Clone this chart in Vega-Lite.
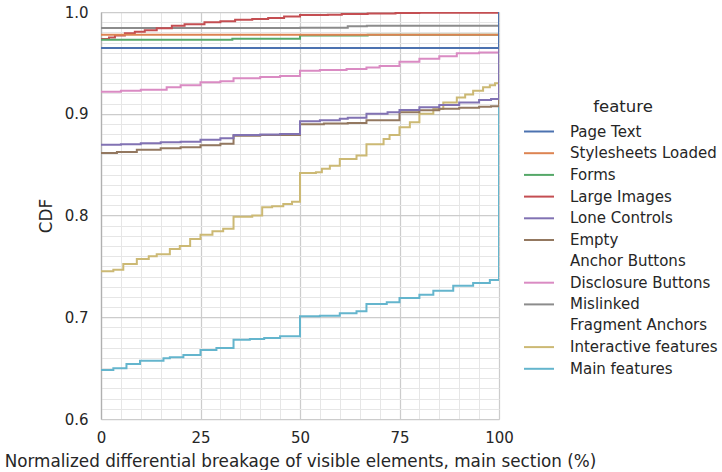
{
  "$schema": "https://vega.github.io/schema/vega-lite/v6.json",
  "width": 398,
  "height": 407,
  "padding": {"left": 4, "top": 5, "right": 0, "bottom": 0},
  "config": {
    "font": "DejaVu Sans",
    "view": {"stroke": null},
    "style": {"guide-label": {"lineHeight": 21}},
    "axis": {
      "labelColor": "#262626",
      "titleColor": "#262626",
      "labelFontSize": 15,
      "titleFontSize": 16.8,
      "titleFontWeight": "normal",
      "ticks": false,
      "labelOverlap": false,
      "labelFlush": false
    },
    "legend": {
      "labelColor": "#262626",
      "titleColor": "#262626",
      "labelFontSize": 15,
      "titleFontSize": 16.5,
      "titleFontWeight": "normal"
    }
  },
  "data": {
    "values": [
      {"feature": "Main features", "x": 0, "cdf": 0.6482},
      {"feature": "Main features", "x": 3.1, "cdf": 0.6498},
      {"feature": "Main features", "x": 6.4, "cdf": 0.654},
      {"feature": "Main features", "x": 9.8, "cdf": 0.6573},
      {"feature": "Main features", "x": 15.7, "cdf": 0.6596},
      {"feature": "Main features", "x": 17.3, "cdf": 0.6606},
      {"feature": "Main features", "x": 20.7, "cdf": 0.6629},
      {"feature": "Main features", "x": 25, "cdf": 0.6678},
      {"feature": "Main features", "x": 29, "cdf": 0.6698},
      {"feature": "Main features", "x": 33.3, "cdf": 0.678},
      {"feature": "Main features", "x": 37.4, "cdf": 0.6786},
      {"feature": "Main features", "x": 41, "cdf": 0.6796},
      {"feature": "Main features", "x": 45, "cdf": 0.6813},
      {"feature": "Main features", "x": 50, "cdf": 0.7009},
      {"feature": "Main features", "x": 55, "cdf": 0.7015},
      {"feature": "Main features", "x": 60, "cdf": 0.7039},
      {"feature": "Main features", "x": 64.2, "cdf": 0.7059},
      {"feature": "Main features", "x": 66.7, "cdf": 0.713},
      {"feature": "Main features", "x": 71.8, "cdf": 0.7147},
      {"feature": "Main features", "x": 75, "cdf": 0.7189},
      {"feature": "Main features", "x": 80, "cdf": 0.7222},
      {"feature": "Main features", "x": 83.5, "cdf": 0.726},
      {"feature": "Main features", "x": 88.5, "cdf": 0.731},
      {"feature": "Main features", "x": 93.5, "cdf": 0.7337},
      {"feature": "Main features", "x": 97.7, "cdf": 0.7366},
      {"feature": "Main features", "x": 100, "cdf": 1.0},

      {"feature": "Interactive features", "x": 0, "cdf": 0.7452},
      {"feature": "Interactive features", "x": 3.1, "cdf": 0.7467},
      {"feature": "Interactive features", "x": 5.6, "cdf": 0.7523},
      {"feature": "Interactive features", "x": 9, "cdf": 0.7572},
      {"feature": "Interactive features", "x": 12, "cdf": 0.76},
      {"feature": "Interactive features", "x": 14, "cdf": 0.762},
      {"feature": "Interactive features", "x": 17.3, "cdf": 0.767},
      {"feature": "Interactive features", "x": 19.8, "cdf": 0.77},
      {"feature": "Interactive features", "x": 22.4, "cdf": 0.777},
      {"feature": "Interactive features", "x": 25, "cdf": 0.781},
      {"feature": "Interactive features", "x": 28, "cdf": 0.7845},
      {"feature": "Interactive features", "x": 30.7, "cdf": 0.787},
      {"feature": "Interactive features", "x": 33.3, "cdf": 0.7988},
      {"feature": "Interactive features", "x": 38, "cdf": 0.8},
      {"feature": "Interactive features", "x": 40.5, "cdf": 0.808},
      {"feature": "Interactive features", "x": 43, "cdf": 0.809},
      {"feature": "Interactive features", "x": 45.8, "cdf": 0.8113},
      {"feature": "Interactive features", "x": 48, "cdf": 0.8135},
      {"feature": "Interactive features", "x": 50, "cdf": 0.8418},
      {"feature": "Interactive features", "x": 54, "cdf": 0.8425},
      {"feature": "Interactive features", "x": 55.5, "cdf": 0.846},
      {"feature": "Interactive features", "x": 57.5, "cdf": 0.849},
      {"feature": "Interactive features", "x": 60, "cdf": 0.8555},
      {"feature": "Interactive features", "x": 64.2, "cdf": 0.859},
      {"feature": "Interactive features", "x": 66.7, "cdf": 0.87},
      {"feature": "Interactive features", "x": 71, "cdf": 0.8752},
      {"feature": "Interactive features", "x": 72.5, "cdf": 0.879},
      {"feature": "Interactive features", "x": 75, "cdf": 0.8867},
      {"feature": "Interactive features", "x": 77.6, "cdf": 0.8916},
      {"feature": "Interactive features", "x": 80, "cdf": 0.9},
      {"feature": "Interactive features", "x": 83.5, "cdf": 0.9047},
      {"feature": "Interactive features", "x": 86, "cdf": 0.911},
      {"feature": "Interactive features", "x": 89.4, "cdf": 0.916},
      {"feature": "Interactive features", "x": 91.5, "cdf": 0.919},
      {"feature": "Interactive features", "x": 93.5, "cdf": 0.9227},
      {"feature": "Interactive features", "x": 96, "cdf": 0.926},
      {"feature": "Interactive features", "x": 97.7, "cdf": 0.928},
      {"feature": "Interactive features", "x": 99, "cdf": 0.93},
      {"feature": "Interactive features", "x": 100, "cdf": 1.0},

      {"feature": "Mislinked Fragment Anchors", "x": 0, "cdf": 0.9843},
      {"feature": "Mislinked Fragment Anchors", "x": 50, "cdf": 0.9846},
      {"feature": "Mislinked Fragment Anchors", "x": 62, "cdf": 0.986},
      {"feature": "Mislinked Fragment Anchors", "x": 66.8, "cdf": 0.9866},
      {"feature": "Mislinked Fragment Anchors", "x": 100, "cdf": 1.0},

      {"feature": "Disclosure Buttons", "x": 0, "cdf": 0.9217},
      {"feature": "Disclosure Buttons", "x": 5, "cdf": 0.9225},
      {"feature": "Disclosure Buttons", "x": 10, "cdf": 0.9235},
      {"feature": "Disclosure Buttons", "x": 16.5, "cdf": 0.926},
      {"feature": "Disclosure Buttons", "x": 20, "cdf": 0.928},
      {"feature": "Disclosure Buttons", "x": 25, "cdf": 0.931},
      {"feature": "Disclosure Buttons", "x": 30, "cdf": 0.932},
      {"feature": "Disclosure Buttons", "x": 33.3, "cdf": 0.935},
      {"feature": "Disclosure Buttons", "x": 40, "cdf": 0.936},
      {"feature": "Disclosure Buttons", "x": 45, "cdf": 0.937},
      {"feature": "Disclosure Buttons", "x": 50, "cdf": 0.9423},
      {"feature": "Disclosure Buttons", "x": 55, "cdf": 0.943},
      {"feature": "Disclosure Buttons", "x": 61.7, "cdf": 0.944},
      {"feature": "Disclosure Buttons", "x": 66.7, "cdf": 0.9455},
      {"feature": "Disclosure Buttons", "x": 70, "cdf": 0.947},
      {"feature": "Disclosure Buttons", "x": 75, "cdf": 0.951},
      {"feature": "Disclosure Buttons", "x": 80, "cdf": 0.954},
      {"feature": "Disclosure Buttons", "x": 85, "cdf": 0.9565},
      {"feature": "Disclosure Buttons", "x": 89.4, "cdf": 0.9594},
      {"feature": "Disclosure Buttons", "x": 95, "cdf": 0.9602},
      {"feature": "Disclosure Buttons", "x": 100, "cdf": 1.0},

      {"feature": "Empty Anchor Buttons", "x": 0, "cdf": 0.8614},
      {"feature": "Empty Anchor Buttons", "x": 4, "cdf": 0.8625},
      {"feature": "Empty Anchor Buttons", "x": 9, "cdf": 0.8647},
      {"feature": "Empty Anchor Buttons", "x": 15, "cdf": 0.866},
      {"feature": "Empty Anchor Buttons", "x": 20, "cdf": 0.867},
      {"feature": "Empty Anchor Buttons", "x": 25, "cdf": 0.869},
      {"feature": "Empty Anchor Buttons", "x": 30, "cdf": 0.8705},
      {"feature": "Empty Anchor Buttons", "x": 33.3, "cdf": 0.8785},
      {"feature": "Empty Anchor Buttons", "x": 40, "cdf": 0.879},
      {"feature": "Empty Anchor Buttons", "x": 50, "cdf": 0.8898},
      {"feature": "Empty Anchor Buttons", "x": 56, "cdf": 0.8905},
      {"feature": "Empty Anchor Buttons", "x": 62, "cdf": 0.891},
      {"feature": "Empty Anchor Buttons", "x": 66.7, "cdf": 0.8935},
      {"feature": "Empty Anchor Buttons", "x": 75, "cdf": 0.9015},
      {"feature": "Empty Anchor Buttons", "x": 80, "cdf": 0.9035},
      {"feature": "Empty Anchor Buttons", "x": 85, "cdf": 0.905},
      {"feature": "Empty Anchor Buttons", "x": 90, "cdf": 0.9058},
      {"feature": "Empty Anchor Buttons", "x": 95, "cdf": 0.9068},
      {"feature": "Empty Anchor Buttons", "x": 98, "cdf": 0.9073},
      {"feature": "Empty Anchor Buttons", "x": 100, "cdf": 1.0},

      {"feature": "Lone Controls", "x": 0, "cdf": 0.8696},
      {"feature": "Lone Controls", "x": 5, "cdf": 0.87},
      {"feature": "Lone Controls", "x": 10, "cdf": 0.871},
      {"feature": "Lone Controls", "x": 15, "cdf": 0.872},
      {"feature": "Lone Controls", "x": 20, "cdf": 0.8725},
      {"feature": "Lone Controls", "x": 25, "cdf": 0.8745},
      {"feature": "Lone Controls", "x": 30, "cdf": 0.876},
      {"feature": "Lone Controls", "x": 33.3, "cdf": 0.879},
      {"feature": "Lone Controls", "x": 40, "cdf": 0.8795},
      {"feature": "Lone Controls", "x": 45, "cdf": 0.88},
      {"feature": "Lone Controls", "x": 50, "cdf": 0.8926},
      {"feature": "Lone Controls", "x": 55, "cdf": 0.8935},
      {"feature": "Lone Controls", "x": 60, "cdf": 0.895},
      {"feature": "Lone Controls", "x": 62, "cdf": 0.896},
      {"feature": "Lone Controls", "x": 66.7, "cdf": 0.9},
      {"feature": "Lone Controls", "x": 72, "cdf": 0.9015},
      {"feature": "Lone Controls", "x": 75, "cdf": 0.9037},
      {"feature": "Lone Controls", "x": 80, "cdf": 0.9063},
      {"feature": "Lone Controls", "x": 85, "cdf": 0.9085},
      {"feature": "Lone Controls", "x": 90, "cdf": 0.911},
      {"feature": "Lone Controls", "x": 95, "cdf": 0.9135},
      {"feature": "Lone Controls", "x": 98, "cdf": 0.9145},
      {"feature": "Lone Controls", "x": 100, "cdf": 1.0},

      {"feature": "Large Images", "x": 0, "cdf": 0.9735},
      {"feature": "Large Images", "x": 2, "cdf": 0.975},
      {"feature": "Large Images", "x": 3.5, "cdf": 0.977},
      {"feature": "Large Images", "x": 6, "cdf": 0.979},
      {"feature": "Large Images", "x": 8.5, "cdf": 0.9805},
      {"feature": "Large Images", "x": 11, "cdf": 0.982},
      {"feature": "Large Images", "x": 14, "cdf": 0.984},
      {"feature": "Large Images", "x": 17.8, "cdf": 0.9865},
      {"feature": "Large Images", "x": 21, "cdf": 0.988},
      {"feature": "Large Images", "x": 26, "cdf": 0.99},
      {"feature": "Large Images", "x": 30, "cdf": 0.991},
      {"feature": "Large Images", "x": 33.7, "cdf": 0.9925},
      {"feature": "Large Images", "x": 38, "cdf": 0.9932},
      {"feature": "Large Images", "x": 42, "cdf": 0.994},
      {"feature": "Large Images", "x": 46, "cdf": 0.9955},
      {"feature": "Large Images", "x": 50, "cdf": 0.997},
      {"feature": "Large Images", "x": 57, "cdf": 0.9972},
      {"feature": "Large Images", "x": 60.5, "cdf": 0.998},
      {"feature": "Large Images", "x": 67, "cdf": 0.9985},
      {"feature": "Large Images", "x": 74, "cdf": 0.999},
      {"feature": "Large Images", "x": 80, "cdf": 0.9993},
      {"feature": "Large Images", "x": 100, "cdf": 1.0},

      {"feature": "Forms", "x": 0, "cdf": 0.9728},
      {"feature": "Forms", "x": 33, "cdf": 0.9738},
      {"feature": "Forms", "x": 50, "cdf": 0.977},
      {"feature": "Forms", "x": 67, "cdf": 0.9777},
      {"feature": "Forms", "x": 100, "cdf": 1.0},

      {"feature": "Stylesheets Loaded", "x": 0, "cdf": 0.9777},
      {"feature": "Stylesheets Loaded", "x": 100, "cdf": 1.0},

      {"feature": "Page Text", "x": 0, "cdf": 0.9646},
      {"feature": "Page Text", "x": 100, "cdf": 1.0}
    ]
  },
  "mark": {"type": "line", "interpolate": "step-after", "strokeWidth": 2, "clip": true},
  "encoding": {
    "x": {
      "field": "x",
      "type": "quantitative",
      "scale": {"domain": [0, 100], "nice": false, "zero": false},
      "title": "Normalized differential breakage of visible elements, main section (%)",
      "axis": {
        "values": [0, 5, 10, 15, 20, 25, 30, 35, 40, 45, 50, 55, 60, 65, 70, 75, 80, 85, 90, 95, 100],
        "labelExpr": "datum.value % 25 === 0 ? datum.label : ''",
        "labelPadding": 11,
        "titlePadding": 8,
        "domainColor": "#cccccc",
        "gridColor": {"condition": {"test": "datum.value % 25 === 0", "value": "#cccccc"}, "value": "#e6e6e6"},
        "gridWidth": {"condition": {"test": "datum.value % 25 === 0", "value": 1.25}, "value": 1}
      }
    },
    "y": {
      "field": "cdf",
      "type": "quantitative",
      "scale": {"domain": [0.6, 1.0], "nice": false, "zero": false},
      "title": "CDF",
      "axis": {
        "values": [0.6, 0.61, 0.62, 0.63, 0.64, 0.65, 0.66, 0.67, 0.68, 0.69, 0.7, 0.71, 0.72, 0.73, 0.74, 0.75, 0.76, 0.77, 0.78, 0.79, 0.8, 0.81, 0.82, 0.83, 0.84, 0.85, 0.86, 0.87, 0.88, 0.89, 0.9, 0.91, 0.92, 0.93, 0.94, 0.95, 0.96, 0.97, 0.98, 0.99, 1.0],
        "labelExpr": "abs(datum.value * 10 - round(datum.value * 10)) < 0.001 ? format(datum.value, '.1f') : ''",
        "labelPadding": 13,
        "titlePadding": 9,
        "domainColor": "#b0b0b0",
        "domainWidth": 1.25,
        "gridColor": {"condition": {"test": "abs(datum.value * 10 - round(datum.value * 10)) < 0.001", "value": "#cccccc"}, "value": "#e6e6e6"},
        "gridWidth": {"condition": {"test": "abs(datum.value * 10 - round(datum.value * 10)) < 0.001", "value": 1.25}, "value": 1}
      }
    },
    "color": {
      "field": "feature",
      "type": "nominal",
      "title": "feature",
      "scale": {
        "domain": ["Page Text", "Stylesheets Loaded", "Forms", "Large Images", "Lone Controls", "Empty Anchor Buttons", "Disclosure Buttons", "Mislinked Fragment Anchors", "Interactive features", "Main features"],
        "range": ["#4c72b0", "#dd8452", "#55a868", "#c44e52", "#8172b3", "#937860", "#da8bc3", "#8c8c8c", "#ccb974", "#64b5cd"]
      },
      "legend": {
        "orient": "none",
        "legendX": 427,
        "legendY": 87,
        "symbolType": "M-1.5,0H1.5",
        "symbolStrokeWidth": 2,
        "symbolSize": 400,
        "labelOffset": 20,
        "labelLimit": 300,
        "rowPadding": 2.7,
        "titlePadding": 5,
        "titleAnchor": "middle",
        "labelExpr": "datum.label == 'Empty Anchor Buttons' ? ['Empty', 'Anchor Buttons'] : datum.label == 'Mislinked Fragment Anchors' ? ['Mislinked', 'Fragment Anchors'] : datum.label"
      }
    }
  }
}
